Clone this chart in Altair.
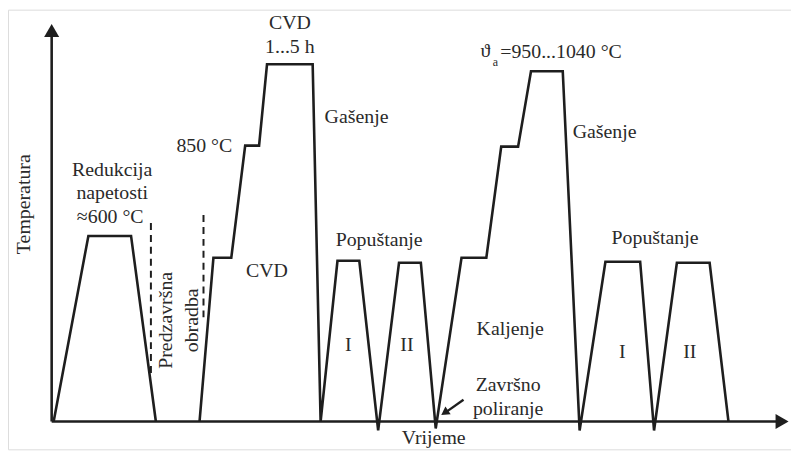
import altair as alt
import pandas as pd

# Schematic heat-treatment profile (time / temperature in arbitrary units)
relief_time = [2, 37, 80, 105]
relief_temp = [0, 187, 187, 0]

main_time = [149, 163, 181, 195, 209, 217, 263, 271, 288, 310, 329, 350, 372, 387,
             413, 438, 453, 470, 483, 515, 532, 558, 593, 607, 630, 663, 682]
main_temp = [0, 165, 165, 278, 278, 360, 360, 0, 162, 162, -9, 160, 160, -7,
             165, 165, 277, 277, 353, 353, -9, 161, 161, -9, 160, 160, 0]

# dashed markers (pre-finishing machining)
dash_time = [100, 153]
dash_top = [200, 208]
dash_bottom = [45, 100]

# annotation texts
labels = ["Redukcija", "napetosti", "\u2248600 \u00b0C", "850 \u00b0C", "CVD", "1...5 h",
          "Ga\u0161enje", "CVD", "Popu\u0161tanje", "I", "II", "=950...1040 \u00b0C",
          "Ga\u0161enje", "Kaljenje", "Zavr\u0161no", "poliranje", "Popu\u0161tanje", "I", "II"]
label_x = [61, 61, 59, 182, 240, 240, 275, 217, 330, 299, 358, 452, 525, 462, 460, 460, 608, 575, 643]
label_y = [253, 230, 206, 278, 402, 377, 307, 152, 183, 77, 77, 372, 292, 93, 37, 13, 185, 70, 70]
label_align = ["center", "center", "center", "right", "center", "center", "left", "center", "center",
               "center", "center", "left", "left", "center", "center", "center", "center", "center",
               "center"]

rot_labels = ["Temperatura", "Predzavr\u0161na", "obradba"]
rot_x = [-28, 115, 141]
rot_y = [219, 102, 102]

FONT = "Liberation Serif"
INK = "#1e1e1e"
TXT = "#2a2a2a"

xs = alt.Scale(domain=[-44, 745], nice=False, zero=False)
ys = alt.Scale(domain=[-28, 415], nice=False, zero=False)


def X(f):
    return alt.X(f, type="quantitative", scale=xs, axis=None)


def Y(f):
    return alt.Y(f, type="quantitative", scale=ys, axis=None)


prof = pd.concat([
    pd.DataFrame({"t": relief_time, "T": relief_temp, "seg": "relief", "i": range(len(relief_time))}),
    pd.DataFrame({"t": main_time, "T": main_temp, "seg": "main", "i": range(len(main_time))}),
])

lines = alt.Chart(prof).mark_line(color=INK, strokeWidth=2.6, strokeJoin="miter").encode(
    x=X("t"), y=Y("T"), detail="seg:N", order="i:Q")

dash_df = pd.DataFrame({"t": dash_time, "a": dash_top, "b": dash_bottom})
dashes = alt.Chart(dash_df).mark_rule(color=INK, strokeWidth=2, strokeDash=[7, 5]).encode(
    x=X("t"), y=Y("a"), y2="b")

axes_df = pd.DataFrame({"x": [0, 0], "x2": [0, 736], "y": [0, 0], "y2": [396, 0]})
axes = alt.Chart(axes_df).mark_rule(color=INK, strokeWidth=2.6).encode(
    x=X("x"), x2="x2", y=Y("y"), y2="y2")

head_up = alt.Chart(pd.DataFrame({"x": [0], "y": [394]})).mark_point(
    shape="triangle-up", filled=True, size=230, color=INK, opacity=1).encode(x=X("x"), y=Y("y"))
head_right = alt.Chart(pd.DataFrame({"x": [736], "y": [0]})).mark_point(
    shape="triangle-right", filled=True, size=230, color=INK, opacity=1).encode(x=X("x"), y=Y("y"))

# small arrow pointing at final polishing
arr = alt.Chart(pd.DataFrame({"x": [415], "x2": [398], "y": [22], "y2": [10]})).mark_rule(
    color=INK, strokeWidth=2.4).encode(x=X("x"), x2="x2", y=Y("y"), y2="y2")
arr_head = alt.Chart(pd.DataFrame({"x": [396], "y": [9]})).mark_point(
    shape="triangle-up", filled=True, size=90, color=INK, opacity=1, angle=236).encode(x=X("x"), y=Y("y"))

lab_df = pd.DataFrame({"x": label_x, "y": label_y, "txt": labels, "al": label_align})
texts = []
for al in ["left", "center", "right"]:
    texts.append(alt.Chart(lab_df[lab_df["al"] == al]).mark_text(
        font=FONT, fontSize=20, color=TXT, align=al, baseline="middle").encode(
        x=X("x"), y=Y("y"), text="txt:N"))

xlab = alt.Chart(pd.DataFrame({"x": [385], "y": [-23], "txt": ["Vrijeme"]})).mark_text(
    font=FONT, fontSize=20, color=TXT, align="center", baseline="alphabetic").encode(
    x=X("x"), y=Y("y"), text="txt:N")

rot_df = pd.DataFrame({"x": rot_x, "y": rot_y, "txt": rot_labels})
rot = alt.Chart(rot_df).mark_text(font=FONT, fontSize=20, color=TXT, angle=270,
                                  align="center", baseline="middle").encode(
    x=X("x"), y=Y("y"), text="txt:N")

theta = alt.Chart(pd.DataFrame({"x": [437], "y": [373], "txt": ["\u03d1"]})).mark_text(
    font=FONT, fontSize=20, color=TXT, align="center", baseline="middle").encode(
    x=X("x"), y=Y("y"), text="txt:N")
sub = alt.Chart(pd.DataFrame({"x": [447], "y": [362], "txt": ["a"]})).mark_text(
    font=FONT, fontSize=12, color=TXT, align="center", baseline="middle").encode(
    x=X("x"), y=Y("y"), text="txt:N")

chart = alt.layer(lines, dashes, axes, head_up, head_right, arr, arr_head, *texts, xlab, rot, theta, sub).properties(
    width=789, height=443, padding=0, autosize=alt.AutoSizeParams(type="none")
).configure_view(strokeWidth=0).configure(background="white")

chart.save("out.html", embed_options={"renderer": "svg", "actions": False})
